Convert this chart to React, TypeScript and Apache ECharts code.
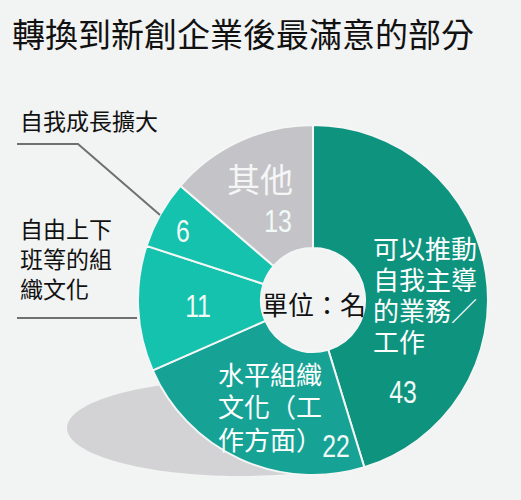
import { useEffect, useRef } from 'react'
import * as echarts from 'echarts'

// ─── 資料 ───
const TITLE = '轉換到新創企業後最滿意的部分'
const UNIT = '單位：名'

const categories = [
  '可以推動自我主導的業務／工作',
  '水平組織文化（工作方面）',
  '自由上下班等的組織文化',
  '自我成長擴大',
  '其他',
]
const counts = [43, 22, 11, 6, 13]

// 圖上的換行文字
const innerLabels = ['可以推動\n自我主導\n的業務／\n工作', '水平組織\n文化（工\n作方面）', '', '', '其他']
const outerLabels = ['', '', '自由上下\n班等的組\n織文化', '自我成長擴大', '']

// ─── 配色 ───
const COLORS = ['#0e937f', '#16a396', '#15c2ae', '#15c2ae', '#c4c4c8']
const BG = '#f2f3f3'

const CJK = '"Noto Sans CJK TC", "Noto Sans CJK SC", sans-serif'
const NUM = '"Liberation Sans", Arial, sans-serif'

// ─── 文字位置 ───
const NUM_POS: [number, number][] = [[403, 393], [336, 447], [198, 307], [183, 232], [278, 222]]
const INNER_POS: [number, number][] = [[373, 232], [218, 357], [0, 0], [0, 0], [260, 178]]

export default function App() {
  const ref = useRef<HTMLDivElement>(null)

  useEffect(() => {
    if (!ref.current) return
    const chart = echarts.init(ref.current, null, { renderer: 'svg' })

    // 數字：窄體效果
    const numTexts = counts.map((c, i) => ({
      type: 'text', x: NUM_POS[i][0], y: NUM_POS[i][1], z: 100, scaleX: 0.8,
      style: {
        text: String(c), fill: '#f1faf7', font: `31px ${NUM}`,
        textAlign: 'center', textVerticalAlign: 'middle',
      },
    }))

    const innerTexts = [
      { type: 'text', x: INNER_POS[0][0], y: INNER_POS[0][1], z: 100,
        style: { text: innerLabels[0], fill: '#ffffff', font: `26px ${CJK}`, lineHeight: 31, textVerticalAlign: 'top' } },
      { type: 'text', x: INNER_POS[1][0], y: INNER_POS[1][1], z: 100,
        style: { text: innerLabels[1], fill: '#ffffff', font: `26px ${CJK}`, lineHeight: 32.5, textVerticalAlign: 'top' } },
      { type: 'text', x: INNER_POS[4][0], y: INNER_POS[4][1], z: 100,
        style: { text: innerLabels[4], fill: '#f6f6f6', font: `33px ${CJK}`, textAlign: 'center', textVerticalAlign: 'middle' } },
    ]

    chart.setOption({
      animation: false,
      backgroundColor: BG,
      graphic: [
        // 底部陰影
        { type: 'ellipse', z: 0, shape: { cx: 240, cy: 428, rx: 173, ry: 48 }, style: { fill: '#d3d3d5' } },
        // 標題
        { type: 'text', x: 12, y: 33, z: 100,
          style: { text: TITLE, fill: '#111', font: `33px ${CJK}`, textVerticalAlign: 'middle' } },
        // 左側標籤
        { type: 'text', x: 20, y: 120, z: 100,
          style: { text: outerLabels[3], fill: '#111', font: `23px ${CJK}`, textVerticalAlign: 'middle' } },
        { type: 'text', x: 20, y: 213, z: 100,
          style: { text: outerLabels[2], fill: '#111', font: `23px ${CJK}`, lineHeight: 30, textVerticalAlign: 'top' } },
        // 引線
        { type: 'polyline', z: 100, shape: { points: [[17, 144], [78, 144], [160, 215]] },
          style: { stroke: '#707070', lineWidth: 2, fill: 'none' } },
        { type: 'polyline', z: 100, shape: { points: [[17, 318], [137, 318]] },
          style: { stroke: '#707070', lineWidth: 2, fill: 'none' } },
        // 中心
        { type: 'text', x: 314, y: 303, z: 100,
          style: { text: UNIT, fill: '#111', font: `26px ${CJK}`, textAlign: 'center', textVerticalAlign: 'middle' } },
        ...innerTexts,
        ...numTexts,
      ],
      series: [{
        type: 'pie',
        center: [313, 300],
        radius: [52, 175],
        startAngle: 90,
        clockwise: true,
        z: 2,
        label: { show: false },
        labelLine: { show: false },
        emphasis: { disabled: true },
        itemStyle: { borderColor: '#f4f6f5', borderWidth: 2 },
        data: categories.map((name, i) => ({
          name, value: counts[i], itemStyle: { color: COLORS[i] },
        })),
      }],
    })

    return () => chart.dispose()
  }, [])

  return (
    <div
      ref={ref}
      style={{ position: 'fixed', left: 0, top: 0, width: 521, height: 500 }}
    />
  )
}
